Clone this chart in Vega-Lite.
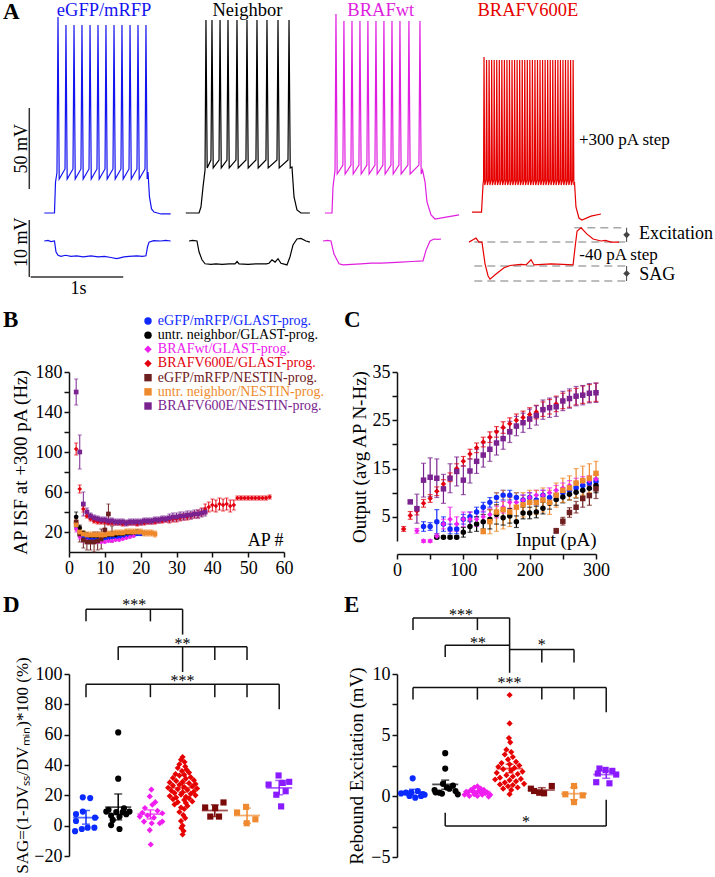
{
"$schema":"https://vega.github.io/schema/vega-lite/v6.json",
"background":"white",
"padding":{"left":2,"top":0,"right":0,"bottom":0},
"config":{
 "view":{"stroke":null},
 "font":"Liberation Serif",
 "text":{"font":"Liberation Serif","color":"black"},
 "axis":{"grid":false,"domainColor":"#111","domainWidth":1.5,"tickColor":"#111","tickWidth":1.5,"tickSize":5,"labelColor":"black","labelFont":"Liberation Serif","labelFontSize":18,"labelPadding":2,"labelFlush":false,"labelOverlap":false,"titleFont":"Liberation Serif","titleFontSize":19,"titleFontWeight":"normal","titleColor":"black"}
},
"columns":2,
"bounds":"flush",
"spacing":{"row":122,"column":106},
"resolve":{"scale":{"color":"independent","shape":"independent","stroke":"independent","fill":"independent"}},
"datasets":{
"topTr":[
{"c":"b","t":0,"v":-70},{"c":"b","t":110,"v":-70},{"c":"b","t":121,"v":-51},{"c":"b","t":137,"v":-45},
{"c":"b","t":148,"v":51},{"c":"b","t":161,"v":-49},
{"c":"b","t":224,"v":-42.8},{"c":"b","t":234,"v":46},{"c":"b","t":247,"v":-49},
{"c":"b","t":310,"v":-42.8},{"c":"b","t":321,"v":46},{"c":"b","t":334,"v":-49},
{"c":"b","t":396,"v":-42.8},{"c":"b","t":407,"v":46},{"c":"b","t":420,"v":-49},
{"c":"b","t":483,"v":-42.8},{"c":"b","t":494,"v":46},{"c":"b","t":507,"v":-49},
{"c":"b","t":569,"v":-42.8},{"c":"b","t":580,"v":46},{"c":"b","t":593,"v":-49},
{"c":"b","t":656,"v":-42.8},{"c":"b","t":666,"v":46},{"c":"b","t":679,"v":-49},
{"c":"b","t":742,"v":-42.8},{"c":"b","t":753,"v":46},{"c":"b","t":766,"v":-49},
{"c":"b","t":828,"v":-42.8},{"c":"b","t":839,"v":46},{"c":"b","t":852,"v":-49},
{"c":"b","t":915,"v":-42.8},{"c":"b","t":926,"v":46},{"c":"b","t":939,"v":-49},
{"c":"b","t":1001,"v":-42.8},{"c":"b","t":1012,"v":46},{"c":"b","t":1025,"v":-49},
{"c":"b","t":1088,"v":-42.8},{"c":"b","t":1098,"v":46},{"c":"b","t":1111,"v":-49},
{"c":"b","t":1120,"v":-44.7},{"c":"b","t":1136,"v":-60.1},{"c":"b","t":1158,"v":-67.5},{"c":"b","t":1185,"v":-69.4},{"c":"b","t":1260,"v":-70.6},{"c":"b","t":1365,"v":-70.6},
{"c":"k","t":1528,"v":-70},{"c":"k","t":1671,"v":-70},{"c":"k","t":1692,"v":-66.3},{"c":"k","t":1714,"v":-54},{"c":"k","t":1736,"v":-43.5},
{"c":"k","t":1746,"v":49.1},{"c":"k","t":1759,"v":-42.2},
{"c":"k","t":1800,"v":-37.3},{"c":"k","t":1811,"v":49.1},{"c":"k","t":1824,"v":-42.2},
{"c":"k","t":1887,"v":-37.3},{"c":"k","t":1898,"v":49.1},{"c":"k","t":1911,"v":-42.2},
{"c":"k","t":1973,"v":-37.3},{"c":"k","t":1984,"v":49.1},{"c":"k","t":1997,"v":-42.2},
{"c":"k","t":2070,"v":-37.3},{"c":"k","t":2081,"v":49.1},{"c":"k","t":2094,"v":-42.2},
{"c":"k","t":2178,"v":-37.3},{"c":"k","t":2189,"v":49.1},{"c":"k","t":2202,"v":-42.2},
{"c":"k","t":2286,"v":-37.3},{"c":"k","t":2297,"v":49.1},{"c":"k","t":2310,"v":-42.2},
{"c":"k","t":2394,"v":-37.3},{"c":"k","t":2405,"v":49.1},{"c":"k","t":2418,"v":-42.2},
{"c":"k","t":2513,"v":-37.3},{"c":"k","t":2524,"v":49.1},{"c":"k","t":2537,"v":-42.2},
{"c":"k","t":2632,"v":-37.3},{"c":"k","t":2643,"v":49.1},{"c":"k","t":2656,"v":-42.2},
{"c":"k","t":2675,"v":-41.6},{"c":"k","t":2697,"v":-60.1},{"c":"k","t":2729,"v":-68.1},{"c":"k","t":2772,"v":-70},{"c":"k","t":2868,"v":-70},
{"c":"m","t":3032,"v":-70},{"c":"m","t":3107,"v":-70},{"c":"m","t":3118,"v":-54},{"c":"m","t":3140,"v":-43.5},
{"c":"m","t":3150,"v":52.8},{"c":"m","t":3163,"v":-45.9},
{"c":"m","t":3225,"v":-40.4},{"c":"m","t":3236,"v":48.5},{"c":"m","t":3249,"v":-45.9},
{"c":"m","t":3312,"v":-40.4},{"c":"m","t":3323,"v":48.5},{"c":"m","t":3336,"v":-45.9},
{"c":"m","t":3398,"v":-40.4},{"c":"m","t":3409,"v":48.5},{"c":"m","t":3422,"v":-45.9},
{"c":"m","t":3484,"v":-40.4},{"c":"m","t":3495,"v":48.5},{"c":"m","t":3508,"v":-45.9},
{"c":"m","t":3571,"v":-40.4},{"c":"m","t":3582,"v":48.5},{"c":"m","t":3595,"v":-45.9},
{"c":"m","t":3657,"v":-40.4},{"c":"m","t":3668,"v":48.5},{"c":"m","t":3681,"v":-45.9},
{"c":"m","t":3744,"v":-40.4},{"c":"m","t":3755,"v":48.5},{"c":"m","t":3768,"v":-45.9},
{"c":"m","t":3830,"v":-40.4},{"c":"m","t":3841,"v":48.5},{"c":"m","t":3854,"v":-45.9},
{"c":"m","t":3927,"v":-40.4},{"c":"m","t":3938,"v":48.5},{"c":"m","t":3951,"v":-45.9},
{"c":"m","t":4046,"v":-40.4},{"c":"m","t":4057,"v":48.5},{"c":"m","t":4070,"v":-45.9},
{"c":"m","t":4085,"v":-43.5},{"c":"m","t":4112,"v":-50.9},{"c":"m","t":4133,"v":-63.2},{"c":"m","t":4177,"v":-71.2},{"c":"m","t":4220,"v":-73.7},{"c":"m","t":4339,"v":-72.5},{"c":"m","t":4479,"v":-71.2},
{"c":"r","t":4619,"v":-69.4},{"c":"r","t":4722,"v":-69.4},{"c":"r","t":4738,"v":-52.7},
{"c":"r","t":4744,"v":-49.6},{"c":"r","t":4749,"v":26.3},{"c":"r","t":4757,"v":-52.7},
{"c":"r","t":4771.5,"v":-49.6},{"c":"r","t":4776.5,"v":24.4},{"c":"r","t":4784.5,"v":-52.7},
{"c":"r","t":4799,"v":-49.6},{"c":"r","t":4804,"v":24.4},{"c":"r","t":4812,"v":-52.7},
{"c":"r","t":4826.5,"v":-49.6},{"c":"r","t":4831.5,"v":24.4},{"c":"r","t":4839.5,"v":-52.7},
{"c":"r","t":4854,"v":-49.6},{"c":"r","t":4859,"v":24.4},{"c":"r","t":4867,"v":-52.7},
{"c":"r","t":4881.5,"v":-49.6},{"c":"r","t":4886.5,"v":24.4},{"c":"r","t":4894.5,"v":-52.7},
{"c":"r","t":4909,"v":-49.6},{"c":"r","t":4914,"v":24.4},{"c":"r","t":4922,"v":-52.7},
{"c":"r","t":4936.5,"v":-49.6},{"c":"r","t":4941.5,"v":24.4},{"c":"r","t":4949.5,"v":-52.7},
{"c":"r","t":4964,"v":-49.6},{"c":"r","t":4969,"v":24.4},{"c":"r","t":4977,"v":-52.7},
{"c":"r","t":4991.5,"v":-49.6},{"c":"r","t":4996.5,"v":24.4},{"c":"r","t":5004.5,"v":-52.7},
{"c":"r","t":5019,"v":-49.6},{"c":"r","t":5024,"v":24.4},{"c":"r","t":5032,"v":-52.7},
{"c":"r","t":5046.5,"v":-49.6},{"c":"r","t":5051.5,"v":24.4},{"c":"r","t":5059.5,"v":-52.7},
{"c":"r","t":5074,"v":-49.6},{"c":"r","t":5079,"v":24.4},{"c":"r","t":5087,"v":-52.7},
{"c":"r","t":5101.5,"v":-49.6},{"c":"r","t":5106.5,"v":24.4},{"c":"r","t":5114.5,"v":-52.7},
{"c":"r","t":5129,"v":-49.6},{"c":"r","t":5134,"v":24.4},{"c":"r","t":5142,"v":-52.7},
{"c":"r","t":5156.5,"v":-49.6},{"c":"r","t":5161.5,"v":24.4},{"c":"r","t":5169.5,"v":-52.7},
{"c":"r","t":5184,"v":-49.6},{"c":"r","t":5189,"v":24.4},{"c":"r","t":5197,"v":-52.7},
{"c":"r","t":5211.5,"v":-49.6},{"c":"r","t":5216.5,"v":24.4},{"c":"r","t":5224.5,"v":-52.7},
{"c":"r","t":5239,"v":-49.6},{"c":"r","t":5244,"v":24.4},{"c":"r","t":5252,"v":-52.7},
{"c":"r","t":5266.5,"v":-49.6},{"c":"r","t":5271.5,"v":24.4},{"c":"r","t":5279.5,"v":-52.7},
{"c":"r","t":5294,"v":-49.6},{"c":"r","t":5299,"v":24.4},{"c":"r","t":5307,"v":-52.7},
{"c":"r","t":5321.5,"v":-49.6},{"c":"r","t":5326.5,"v":24.4},{"c":"r","t":5334.5,"v":-52.7},
{"c":"r","t":5349,"v":-49.6},{"c":"r","t":5354,"v":24.4},{"c":"r","t":5362,"v":-52.7},
{"c":"r","t":5376.5,"v":-49.6},{"c":"r","t":5381.5,"v":24.4},{"c":"r","t":5389.5,"v":-52.7},
{"c":"r","t":5404,"v":-49.6},{"c":"r","t":5409,"v":24.4},{"c":"r","t":5417,"v":-52.7},
{"c":"r","t":5431.5,"v":-49.6},{"c":"r","t":5436.5,"v":24.4},{"c":"r","t":5444.5,"v":-52.7},
{"c":"r","t":5459,"v":-49.6},{"c":"r","t":5464,"v":24.4},{"c":"r","t":5472,"v":-52.7},
{"c":"r","t":5486.5,"v":-49.6},{"c":"r","t":5491.5,"v":24.4},{"c":"r","t":5499.5,"v":-52.7},
{"c":"r","t":5514,"v":-49.6},{"c":"r","t":5519,"v":24.4},{"c":"r","t":5527,"v":-52.7},
{"c":"r","t":5541.5,"v":-49.6},{"c":"r","t":5546.5,"v":24.4},{"c":"r","t":5554.5,"v":-52.7},
{"c":"r","t":5569,"v":-49.6},{"c":"r","t":5574,"v":24.4},{"c":"r","t":5582,"v":-52.7},
{"c":"r","t":5596.5,"v":-49.6},{"c":"r","t":5601.5,"v":24.4},{"c":"r","t":5609.5,"v":-52.7},
{"c":"r","t":5624,"v":-49.6},{"c":"r","t":5629,"v":24.4},{"c":"r","t":5637,"v":-52.7},
{"c":"r","t":5651.5,"v":-49.6},{"c":"r","t":5656.5,"v":24.4},{"c":"r","t":5664.5,"v":-52.7},
{"c":"r","t":5679,"v":-49.6},{"c":"r","t":5684,"v":24.4},{"c":"r","t":5692,"v":-52.7},
{"c":"r","t":5706.5,"v":-49.6},{"c":"r","t":5711.5,"v":24.4},{"c":"r","t":5719.5,"v":-52.7},
{"c":"r","t":5726,"v":-50.9},{"c":"r","t":5742,"v":-66.3},{"c":"r","t":5774,"v":-73.1},{"c":"r","t":5807,"v":-74.3},{"c":"r","t":5904,"v":-71.9},{"c":"r","t":6012,"v":-70.6}
],
"botTr":[
{"c":"b","t":0,"d":0},{"c":"b","t":40,"d":0.1},{"c":"b","t":72,"d":-0.1},{"c":"b","t":110,"d":0},{"c":"b","t":126,"d":-1.9},{"c":"b","t":148,"d":-2.5},{"c":"b","t":180,"d":-2.7},{"c":"b","t":230,"d":-2.5},{"c":"b","t":288,"d":-2.7},{"c":"b","t":350,"d":-2.6},{"c":"b","t":420,"d":-2.8},{"c":"b","t":504,"d":-2.6},{"c":"b","t":580,"d":-2.8},{"c":"b","t":650,"d":-2.7},{"c":"b","t":720,"d":-2.9},{"c":"b","t":780,"d":-3.1},{"c":"b","t":807,"d":-3.0},{"c":"b","t":860,"d":-2.8},{"c":"b","t":915,"d":-2.7},{"c":"b","t":1000,"d":-2.6},{"c":"b","t":1060,"d":-2.7},{"c":"b","t":1098,"d":-2.6},{"c":"b","t":1115,"d":-1.0},{"c":"b","t":1131,"d":-0.2},{"c":"b","t":1180,"d":0.05},{"c":"b","t":1260,"d":0},{"c":"b","t":1310,"d":0.1},{"c":"b","t":1365,"d":0},
{"c":"k","t":1563,"d":0},{"c":"k","t":1600,"d":0.1},{"c":"k","t":1649,"d":0},{"c":"k","t":1671,"d":-1.9},{"c":"k","t":1703,"d":-3.3},{"c":"k","t":1736,"d":-4.0},{"c":"k","t":1800,"d":-4.1},{"c":"k","t":1855,"d":-4.0},{"c":"k","t":1920,"d":-4.1},{"c":"k","t":2000,"d":-4.0},{"c":"k","t":2060,"d":-4.0},{"c":"k","t":2082,"d":-3.6},{"c":"k","t":2103,"d":-4.0},{"c":"k","t":2200,"d":-4.1},{"c":"k","t":2286,"d":-4.0},{"c":"k","t":2400,"d":-4.0},{"c":"k","t":2427,"d":-3.9},{"c":"k","t":2459,"d":-3.3},{"c":"k","t":2492,"d":-3.7},{"c":"k","t":2524,"d":-3.1},{"c":"k","t":2556,"d":-3.9},{"c":"k","t":2600,"d":-4.1},{"c":"k","t":2621,"d":-4.2},{"c":"k","t":2653,"d":-2.8},{"c":"k","t":2686,"d":-0.7},{"c":"k","t":2729,"d":0.35},{"c":"k","t":2772,"d":0.45},{"c":"k","t":2826,"d":0},{"c":"k","t":2868,"d":-0.2},
{"c":"m","t":3010,"d":0},{"c":"m","t":3060,"d":0.1},{"c":"m","t":3096,"d":0},{"c":"m","t":3129,"d":-2.3},{"c":"m","t":3183,"d":-4.0},{"c":"m","t":3226,"d":-4.2},{"c":"m","t":3320,"d":-4.1},{"c":"m","t":3420,"d":-4.0},{"c":"m","t":3530,"d":-3.9},{"c":"m","t":3636,"d":-3.9},{"c":"m","t":3750,"d":-3.8},{"c":"m","t":3852,"d":-3.7},{"c":"m","t":3970,"d":-3.6},{"c":"m","t":4090,"d":-3.5},{"c":"m","t":4123,"d":-1.6},{"c":"m","t":4166,"d":0},{"c":"m","t":4209,"d":0.35},{"c":"m","t":4250,"d":0.3},{"c":"m","t":4285,"d":0.35},
{"c":"r","t":4587,"d":-0.2},{"c":"r","t":4630,"d":0.2},{"c":"r","t":4662,"d":0.5},{"c":"r","t":4695,"d":-0.2},{"c":"r","t":4727,"d":-0.2},{"c":"r","t":4760,"d":-4.0},{"c":"r","t":4792,"d":-6.1},{"c":"r","t":4814,"d":-6.7},{"c":"r","t":4879,"d":-5.8},{"c":"r","t":4965,"d":-4.7},{"c":"r","t":5030,"d":-4.3},{"c":"r","t":5095,"d":-4.2},{"c":"r","t":5150,"d":-4.1},{"c":"r","t":5203,"d":-4.2},{"c":"r","t":5257,"d":-3.3},{"c":"r","t":5289,"d":-4.2},{"c":"r","t":5380,"d":-4.1},{"c":"r","t":5473,"d":-4.0},{"c":"r","t":5600,"d":-4.1},{"c":"r","t":5711,"d":-4.2},{"c":"r","t":5733,"d":-1.0},{"c":"r","t":5754,"d":1.75},{"c":"r","t":5797,"d":2.3},{"c":"r","t":5862,"d":1.2},{"c":"r","t":5927,"d":0.35},{"c":"r","t":6013,"d":0},{"c":"r","t":6060,"d":0.1},{"c":"r","t":6120,"d":-0.2},{"c":"r","t":6207,"d":-0.2}
],
"titlesA":[{"s":"eGFP/mRFP","t":646,"v":51.3,"c":"b"},{"s":"Neighbor","t":2193,"v":51.3,"c":"k"},{"s":"BRAFwt","t":3634,"v":51.3,"c":"m"},{"s":"BRAFV600E","t":5223,"v":51.3,"c":"r"}],
"dashA":[{"t":5724,"t2":6282,"d":2.33},{"t":4644,"t2":6282,"d":-0.18},{"t":4644,"t2":6282,"d":-4.39},{"t":4644,"t2":6282,"d":-7.02}],
"arrA":[{"t":6289,"d":2.33,"d2":-0.18,"m":1.08},{"t":6289,"d":-4.39,"d2":-7.02,"m":-5.7}],
"legB":[{"g":1,"lab":"eGFP/mRFP/GLAST-prog."},{"g":2,"lab":"untr. neighbor/GLAST-prog."},{"g":3,"lab":"BRAFwt/GLAST-prog."},{"g":4,"lab":"BRAFV600E/GLAST-prog."},{"g":5,"lab":"eGFP/mRFP/NESTIN-prog."},{"g":6,"lab":"untr. neighbor/NESTIN-prog."},{"g":7,"lab":"BRAFV600E/NESTIN-prog."}],
"isf":[
{"g":1,"x":2,"y":26,"lo":23,"hi":29},{"g":1,"x":3,"y":18,"lo":16,"hi":20},{"g":1,"x":4,"y":15,"lo":13,"hi":17},{"g":1,"x":5,"y":14,"lo":12,"hi":16},{"g":1,"x":6,"y":14,"lo":12,"hi":16},{"g":1,"x":7,"y":14,"lo":13,"hi":15},{"g":1,"x":8,"y":14,"lo":13,"hi":15},{"g":1,"x":9,"y":14,"lo":13,"hi":15},{"g":1,"x":10,"y":14,"lo":13,"hi":15},{"g":1,"x":11,"y":14,"lo":13,"hi":15},{"g":1,"x":12,"y":15,"lo":14,"hi":16},{"g":1,"x":13,"y":15,"lo":14,"hi":16},{"g":1,"x":14,"y":15,"lo":14,"hi":16},{"g":1,"x":15,"y":16,"lo":15,"hi":17},{"g":1,"x":16,"y":16,"lo":15,"hi":17},{"g":1,"x":17,"y":17,"lo":16,"hi":18},{"g":1,"x":18,"y":17,"lo":16,"hi":18},{"g":1,"x":19,"y":18,"lo":17,"hi":19},{"g":1,"x":20,"y":18,"lo":17,"hi":19},{"g":1,"x":21,"y":19,"lo":18,"hi":20},
{"g":2,"x":2,"y":35,"lo":30,"hi":40},{"g":2,"x":3,"y":24,"lo":21,"hi":27},{"g":2,"x":4,"y":19,"lo":17,"hi":21},{"g":2,"x":5,"y":17,"lo":15,"hi":19},{"g":2,"x":6,"y":16,"lo":14,"hi":18},{"g":2,"x":7,"y":16,"lo":14,"hi":18},{"g":2,"x":8,"y":16,"lo":14,"hi":18},{"g":2,"x":9,"y":16,"lo":14,"hi":18},{"g":2,"x":10,"y":16,"lo":14,"hi":18},{"g":2,"x":11,"y":17,"lo":15,"hi":19},{"g":2,"x":12,"y":17,"lo":15,"hi":19},{"g":2,"x":13,"y":17,"lo":15,"hi":19},{"g":2,"x":14,"y":18,"lo":16,"hi":20},{"g":2,"x":15,"y":18,"lo":16,"hi":20},{"g":2,"x":16,"y":19,"lo":17,"hi":21},{"g":2,"x":17,"y":19,"lo":17,"hi":21},{"g":2,"x":18,"y":19,"lo":17,"hi":21},{"g":2,"x":19,"y":20,"lo":18,"hi":22},
{"g":3,"x":2,"y":23,"lo":20,"hi":26},{"g":3,"x":3,"y":15,"lo":13,"hi":17},{"g":3,"x":4,"y":12,"lo":10,"hi":14},{"g":3,"x":5,"y":11,"lo":10,"hi":12},{"g":3,"x":6,"y":10,"lo":9,"hi":11},{"g":3,"x":7,"y":10,"lo":9,"hi":11},{"g":3,"x":8,"y":10,"lo":9,"hi":11},{"g":3,"x":9,"y":10,"lo":9,"hi":11},{"g":3,"x":10,"y":10,"lo":9,"hi":11},{"g":3,"x":11,"y":11,"lo":10,"hi":12},{"g":3,"x":12,"y":11,"lo":10,"hi":12},{"g":3,"x":13,"y":12,"lo":11,"hi":13},{"g":3,"x":14,"y":12,"lo":11,"hi":13},{"g":3,"x":15,"y":13,"lo":12,"hi":14},{"g":3,"x":16,"y":14,"lo":13,"hi":15},{"g":3,"x":17,"y":15,"lo":14,"hi":16},{"g":3,"x":18,"y":16,"lo":15,"hi":17},
{"g":4,"x":2,"y":103,"lo":97,"hi":109},{"g":4,"x":3,"y":63,"lo":59,"hi":67},{"g":4,"x":4,"y":43,"lo":40,"hi":46},{"g":4,"x":5,"y":36,"lo":34,"hi":38},{"g":4,"x":6,"y":33,"lo":31,"hi":35},{"g":4,"x":7,"y":31,"lo":29,"hi":33},{"g":4,"x":8,"y":30,"lo":28,"hi":32},{"g":4,"x":9,"y":30,"lo":28,"hi":32},{"g":4,"x":10,"y":30,"lo":28,"hi":32},{"g":4,"x":11,"y":29,"lo":27,"hi":31},{"g":4,"x":12,"y":29,"lo":27,"hi":31},{"g":4,"x":13,"y":29,"lo":27,"hi":31},{"g":4,"x":14,"y":29,"lo":27,"hi":31},{"g":4,"x":15,"y":28,"lo":26,"hi":30},{"g":4,"x":16,"y":29,"lo":27,"hi":31},{"g":4,"x":17,"y":29,"lo":27,"hi":31},{"g":4,"x":18,"y":29,"lo":27,"hi":31},{"g":4,"x":19,"y":28,"lo":26,"hi":30},{"g":4,"x":20,"y":29,"lo":27,"hi":31},{"g":4,"x":21,"y":29,"lo":27,"hi":31},{"g":4,"x":22,"y":30,"lo":28,"hi":32},{"g":4,"x":23,"y":30,"lo":28,"hi":32},{"g":4,"x":24,"y":30,"lo":28,"hi":32},{"g":4,"x":25,"y":31,"lo":29,"hi":33},{"g":4,"x":26,"y":31,"lo":29,"hi":33},{"g":4,"x":27,"y":32,"lo":30,"hi":34},{"g":4,"x":28,"y":32,"lo":29,"hi":35},{"g":4,"x":29,"y":33,"lo":30,"hi":36},{"g":4,"x":30,"y":33,"lo":30,"hi":36},{"g":4,"x":31,"y":34,"lo":31,"hi":37},{"g":4,"x":32,"y":35,"lo":32,"hi":38},{"g":4,"x":33,"y":35,"lo":32,"hi":38},{"g":4,"x":34,"y":36,"lo":33,"hi":39},{"g":4,"x":35,"y":37,"lo":34,"hi":40},{"g":4,"x":36,"y":38,"lo":34,"hi":42},{"g":4,"x":37,"y":40,"lo":36,"hi":44},{"g":4,"x":38,"y":43,"lo":38,"hi":48},{"g":4,"x":39,"y":45,"lo":40,"hi":50},{"g":4,"x":40,"y":47,"lo":41,"hi":53},{"g":4,"x":41,"y":46,"lo":40,"hi":52},{"g":4,"x":42,"y":48,"lo":42,"hi":54},{"g":4,"x":43,"y":47,"lo":41,"hi":53},{"g":4,"x":44,"y":48,"lo":42,"hi":54},{"g":4,"x":45,"y":46,"lo":40,"hi":52},{"g":4,"x":46,"y":47,"lo":42,"hi":52},{"g":4,"x":47,"y":54,"lo":52,"hi":56},{"g":4,"x":48,"y":54,"lo":52,"hi":56},{"g":4,"x":49,"y":54,"lo":52,"hi":56},{"g":4,"x":50,"y":54,"lo":52,"hi":56},{"g":4,"x":51,"y":54,"lo":52,"hi":56},{"g":4,"x":52,"y":54,"lo":52,"hi":56},{"g":4,"x":53,"y":54,"lo":52,"hi":56},{"g":4,"x":54,"y":54,"lo":52,"hi":56},{"g":4,"x":55,"y":54,"lo":52,"hi":56},{"g":4,"x":56,"y":55,"lo":53,"hi":57},
{"g":5,"x":2,"y":30,"lo":24,"hi":36},{"g":5,"x":3,"y":18,"lo":10,"hi":26},{"g":5,"x":4,"y":12,"lo":4,"hi":20},{"g":5,"x":5,"y":10,"lo":2,"hi":18},{"g":5,"x":6,"y":10,"lo":2,"hi":18},{"g":5,"x":7,"y":10,"lo":0,"hi":20},{"g":5,"x":8,"y":11,"lo":2,"hi":20},{"g":5,"x":9,"y":13,"lo":3,"hi":23},{"g":5,"x":10,"y":22,"lo":12,"hi":32},{"g":5,"x":11,"y":38,"lo":28,"hi":48},{"g":5,"x":12,"y":18,"lo":10,"hi":26},
{"g":6,"x":2,"y":27,"lo":22,"hi":32},{"g":6,"x":3,"y":20,"lo":16,"hi":24},{"g":6,"x":4,"y":18,"lo":15,"hi":21},{"g":6,"x":5,"y":17,"lo":14,"hi":20},{"g":6,"x":6,"y":17,"lo":14,"hi":20},{"g":6,"x":7,"y":17,"lo":14,"hi":20},{"g":6,"x":8,"y":17,"lo":14,"hi":20},{"g":6,"x":9,"y":17,"lo":14,"hi":20},{"g":6,"x":10,"y":17,"lo":14,"hi":20},{"g":6,"x":11,"y":18,"lo":15,"hi":21},{"g":6,"x":12,"y":18,"lo":15,"hi":21},{"g":6,"x":13,"y":19,"lo":16,"hi":22},{"g":6,"x":14,"y":19,"lo":16,"hi":22},{"g":6,"x":15,"y":19,"lo":16,"hi":22},{"g":6,"x":16,"y":20,"lo":17,"hi":23},{"g":6,"x":17,"y":20,"lo":17,"hi":23},{"g":6,"x":18,"y":20,"lo":17,"hi":23},{"g":6,"x":19,"y":20,"lo":17,"hi":23},{"g":6,"x":20,"y":20,"lo":17,"hi":23},{"g":6,"x":21,"y":19,"lo":16,"hi":22},{"g":6,"x":22,"y":19,"lo":16,"hi":22},{"g":6,"x":23,"y":19,"lo":16,"hi":22},{"g":6,"x":24,"y":18,"lo":15,"hi":21},
{"g":7,"x":2,"y":160,"lo":147,"hi":173},{"g":7,"x":3,"y":100,"lo":83,"hi":117},{"g":7,"x":4,"y":48,"lo":36,"hi":60},{"g":7,"x":5,"y":40,"lo":36,"hi":44},{"g":7,"x":6,"y":36,"lo":33,"hi":39},{"g":7,"x":7,"y":34,"lo":31,"hi":37},{"g":7,"x":8,"y":33,"lo":30,"hi":36},{"g":7,"x":9,"y":32,"lo":29,"hi":35},{"g":7,"x":10,"y":32,"lo":29,"hi":35},{"g":7,"x":11,"y":31,"lo":28,"hi":34},{"g":7,"x":12,"y":31,"lo":28,"hi":34},{"g":7,"x":13,"y":30,"lo":27,"hi":33},{"g":7,"x":14,"y":30,"lo":27,"hi":33},{"g":7,"x":15,"y":30,"lo":27,"hi":33},{"g":7,"x":16,"y":29,"lo":26,"hi":32},{"g":7,"x":17,"y":30,"lo":27,"hi":33},{"g":7,"x":18,"y":30,"lo":27,"hi":33},{"g":7,"x":19,"y":30,"lo":27,"hi":33},{"g":7,"x":20,"y":30,"lo":27,"hi":33},{"g":7,"x":21,"y":31,"lo":28,"hi":34},{"g":7,"x":22,"y":31,"lo":28,"hi":34},{"g":7,"x":23,"y":31,"lo":28,"hi":34},{"g":7,"x":24,"y":32,"lo":29,"hi":35},{"g":7,"x":25,"y":32,"lo":29,"hi":35},{"g":7,"x":26,"y":33,"lo":30,"hi":36},{"g":7,"x":27,"y":33,"lo":30,"hi":36},{"g":7,"x":28,"y":34,"lo":30,"hi":38},{"g":7,"x":29,"y":35,"lo":31,"hi":39},{"g":7,"x":30,"y":35,"lo":31,"hi":39},{"g":7,"x":31,"y":36,"lo":32,"hi":40},{"g":7,"x":32,"y":36,"lo":32,"hi":40},{"g":7,"x":33,"y":37,"lo":33,"hi":41},{"g":7,"x":34,"y":37,"lo":33,"hi":41},{"g":7,"x":35,"y":38,"lo":34,"hi":42},{"g":7,"x":36,"y":38,"lo":34,"hi":42},{"g":7,"x":37,"y":39,"lo":35,"hi":43},{"g":7,"x":38,"y":40,"lo":36,"hi":44}
],
"out":[
{"g":1,"x":40,"y":3.0,"lo":2.0,"hi":4.0},{"g":1,"x":50,"y":3.0,"lo":2.2,"hi":3.8},{"g":1,"x":60,"y":4.0,"lo":1.5,"hi":6.5},{"g":1,"x":70,"y":3.5,"lo":2.0,"hi":5.0},{"g":1,"x":80,"y":2.5,"lo":1.5,"hi":3.5},{"g":1,"x":90,"y":2.5,"lo":1.5,"hi":3.5},{"g":1,"x":100,"y":4.5,"lo":3.5,"hi":5.5},{"g":1,"x":110,"y":5.0,"lo":4,"hi":6},{"g":1,"x":120,"y":6,"lo":5,"hi":7},{"g":1,"x":130,"y":7,"lo":6,"hi":8},{"g":1,"x":140,"y":8,"lo":7,"hi":9},{"g":1,"x":150,"y":9,"lo":8,"hi":10},{"g":1,"x":160,"y":9.5,"lo":8.5,"hi":10.5},{"g":1,"x":170,"y":9.5,"lo":8.5,"hi":10.5},{"g":1,"x":180,"y":9,"lo":8,"hi":10},{"g":1,"x":190,"y":8.5,"lo":7.5,"hi":9.5},{"g":1,"x":200,"y":9,"lo":8,"hi":10},{"g":1,"x":210,"y":8.5,"lo":7.5,"hi":9.5},{"g":1,"x":220,"y":9.5,"lo":8.5,"hi":10.5},{"g":1,"x":230,"y":9,"lo":8,"hi":10},{"g":1,"x":240,"y":9.5,"lo":8.5,"hi":10.5},{"g":1,"x":250,"y":10,"lo":9,"hi":11},{"g":1,"x":260,"y":10.5,"lo":9.5,"hi":11.5},{"g":1,"x":270,"y":11,"lo":10,"hi":12},{"g":1,"x":280,"y":11.5,"lo":10.3,"hi":12.7},{"g":1,"x":290,"y":12,"lo":10.8,"hi":13.2},{"g":1,"x":300,"y":12.3,"lo":10.8,"hi":13.8},
{"g":2,"x":60,"y":0.8,"lo":0.5,"hi":1.1},{"g":2,"x":70,"y":0.8,"lo":0.5,"hi":1.1},{"g":2,"x":80,"y":0.8,"lo":0.5,"hi":1.1},{"g":2,"x":90,"y":0.8,"lo":0.5,"hi":1.1},{"g":2,"x":100,"y":1.8,"lo":0.8,"hi":2.8},{"g":2,"x":110,"y":3,"lo":1.8,"hi":4.2},{"g":2,"x":120,"y":3.5,"lo":2,"hi":5},{"g":2,"x":130,"y":4,"lo":2.5,"hi":5.5},{"g":2,"x":140,"y":4.5,"lo":2.5,"hi":6.5},{"g":2,"x":150,"y":5.5,"lo":3.5,"hi":7.5},{"g":2,"x":160,"y":4.8,"lo":3.3,"hi":6.3},{"g":2,"x":170,"y":5.2,"lo":3.7,"hi":6.7},{"g":2,"x":180,"y":4.0,"lo":2.8,"hi":5.2},{"g":2,"x":190,"y":5.8,"lo":4.6,"hi":7.0},{"g":2,"x":200,"y":5.8,"lo":4.6,"hi":7.0},{"g":2,"x":210,"y":6.0,"lo":4.8,"hi":7.2},{"g":2,"x":220,"y":6.8,"lo":5.6,"hi":8.0},{"g":2,"x":230,"y":7.8,"lo":6.6,"hi":9.0},{"g":2,"x":240,"y":8.6,"lo":7.4,"hi":9.8},{"g":2,"x":250,"y":9.1,"lo":7.9,"hi":10.3},{"g":2,"x":260,"y":9.7,"lo":8.5,"hi":10.9},{"g":2,"x":270,"y":10.1,"lo":8.9,"hi":11.3},{"g":2,"x":280,"y":10.5,"lo":9.3,"hi":11.7},{"g":2,"x":290,"y":10.9,"lo":9.7,"hi":12.1},{"g":2,"x":300,"y":11.5,"lo":10,"hi":13},
{"g":3,"x":30,"y":2.1,"lo":1.6,"hi":2.6},{"g":3,"x":40,"y":0,"lo":-0.3,"hi":0.3},{"g":3,"x":50,"y":0,"lo":-0.3,"hi":0.3},{"g":3,"x":60,"y":1.0,"lo":0.5,"hi":1.5},{"g":3,"x":70,"y":3.5,"lo":2.5,"hi":4.5},{"g":3,"x":80,"y":4.5,"lo":2,"hi":7},{"g":3,"x":90,"y":3.5,"lo":2,"hi":5},{"g":3,"x":100,"y":4.5,"lo":3,"hi":6},{"g":3,"x":110,"y":4.5,"lo":3,"hi":6},{"g":3,"x":120,"y":4.5,"lo":3,"hi":6},{"g":3,"x":130,"y":5.0,"lo":3.8,"hi":6.2},{"g":3,"x":140,"y":5.5,"lo":4.3,"hi":6.7},{"g":3,"x":150,"y":6,"lo":4.8,"hi":7.2},{"g":3,"x":160,"y":7,"lo":5.8,"hi":8.2},{"g":3,"x":170,"y":8,"lo":6.8,"hi":9.2},{"g":3,"x":180,"y":8,"lo":7,"hi":9},{"g":3,"x":190,"y":8.5,"lo":7.5,"hi":9.5},{"g":3,"x":200,"y":9,"lo":8,"hi":10},{"g":3,"x":210,"y":9.5,"lo":8.5,"hi":10.5},{"g":3,"x":220,"y":9.5,"lo":8.5,"hi":10.5},{"g":3,"x":230,"y":10,"lo":9,"hi":11},{"g":3,"x":240,"y":10.5,"lo":9.5,"hi":11.5},{"g":3,"x":250,"y":11,"lo":10,"hi":12},{"g":3,"x":260,"y":11.5,"lo":10.5,"hi":12.5},{"g":3,"x":270,"y":12,"lo":11,"hi":13},{"g":3,"x":280,"y":12.3,"lo":11.3,"hi":13.3},{"g":3,"x":290,"y":12.5,"lo":11.5,"hi":13.5},{"g":3,"x":300,"y":12.8,"lo":11.8,"hi":13.8},
{"g":4,"x":10,"y":2.5,"lo":2.0,"hi":3.0},{"g":4,"x":20,"y":5.3,"lo":4.5,"hi":6.1},{"g":4,"x":30,"y":6.2,"lo":5.4,"hi":7.0},{"g":4,"x":40,"y":7.8,"lo":7.0,"hi":8.6},{"g":4,"x":50,"y":8.8,"lo":8.0,"hi":9.6},{"g":4,"x":60,"y":10.3,"lo":9.4,"hi":11.2},{"g":4,"x":70,"y":11.8,"lo":10.9,"hi":12.7},{"g":4,"x":80,"y":13.2,"lo":12.3,"hi":14.1},{"g":4,"x":90,"y":15,"lo":14,"hi":16},{"g":4,"x":100,"y":16.5,"lo":15.5,"hi":17.5},{"g":4,"x":110,"y":18,"lo":17,"hi":19},{"g":4,"x":120,"y":19.3,"lo":18.3,"hi":20.3},{"g":4,"x":130,"y":20.5,"lo":19.5,"hi":21.5},{"g":4,"x":140,"y":21.5,"lo":20.4,"hi":22.6},{"g":4,"x":150,"y":22.6,"lo":21.5,"hi":23.7},{"g":4,"x":160,"y":23.5,"lo":22.3,"hi":24.7},{"g":4,"x":170,"y":24.3,"lo":23.1,"hi":25.5},{"g":4,"x":180,"y":25,"lo":23.7,"hi":26.3},{"g":4,"x":190,"y":25.6,"lo":24.3,"hi":26.9},{"g":4,"x":200,"y":26.2,"lo":24.8,"hi":27.6},{"g":4,"x":210,"y":26.7,"lo":25.3,"hi":28.1},{"g":4,"x":220,"y":27.3,"lo":25.8,"hi":28.8},{"g":4,"x":230,"y":27.8,"lo":26.3,"hi":29.3},{"g":4,"x":240,"y":28.4,"lo":26.8,"hi":30.0},{"g":4,"x":250,"y":29.0,"lo":27.4,"hi":30.6},{"g":4,"x":260,"y":29.4,"lo":27.7,"hi":31.1},{"g":4,"x":270,"y":29.9,"lo":28.2,"hi":31.6},{"g":4,"x":280,"y":30.3,"lo":28.5,"hi":32.1},{"g":4,"x":290,"y":30.6,"lo":28.8,"hi":32.4},{"g":4,"x":300,"y":30.8,"lo":28.9,"hi":32.7},
{"g":5,"x":240,"y":2.1,"lo":1.6,"hi":2.6},{"g":5,"x":250,"y":4.1,"lo":3.3,"hi":4.9},{"g":5,"x":260,"y":5.9,"lo":4.9,"hi":6.9},{"g":5,"x":270,"y":7.0,"lo":5.8,"hi":8.2},{"g":5,"x":280,"y":8.8,"lo":7.0,"hi":10.6},{"g":5,"x":290,"y":9.4,"lo":7.4,"hi":11.4},{"g":5,"x":300,"y":10.8,"lo":8.8,"hi":12.8},
{"g":6,"x":130,"y":2.0,"lo":1.5,"hi":2.5},{"g":6,"x":140,"y":4,"lo":1.5,"hi":6.5},{"g":6,"x":150,"y":6,"lo":2,"hi":10},{"g":6,"x":160,"y":6.5,"lo":2.5,"hi":10.5},{"g":6,"x":170,"y":6,"lo":3,"hi":9},{"g":6,"x":180,"y":7,"lo":4,"hi":10},{"g":6,"x":190,"y":7.5,"lo":5,"hi":10},{"g":6,"x":200,"y":8,"lo":5.5,"hi":10.5},{"g":6,"x":210,"y":8,"lo":5.5,"hi":10.5},{"g":6,"x":220,"y":8.5,"lo":6,"hi":11},{"g":6,"x":230,"y":8,"lo":5.5,"hi":10.5},{"g":6,"x":240,"y":9.5,"lo":7,"hi":12},{"g":6,"x":250,"y":10.5,"lo":8,"hi":13},{"g":6,"x":260,"y":11,"lo":8.5,"hi":13.5},{"g":6,"x":270,"y":12,"lo":9,"hi":15},{"g":6,"x":280,"y":12.5,"lo":9.5,"hi":15.5},{"g":6,"x":290,"y":13,"lo":10,"hi":16},{"g":6,"x":300,"y":14,"lo":11.5,"hi":16.5},
{"g":7,"x":20,"y":8.1,"lo":7.8,"hi":8.4},{"g":7,"x":30,"y":6.7,"lo":3.7,"hi":9.7},{"g":7,"x":40,"y":12.6,"lo":9.1,"hi":16.1},{"g":7,"x":50,"y":13.2,"lo":9.2,"hi":17.2},{"g":7,"x":60,"y":13.0,"lo":9.0,"hi":17.0},{"g":7,"x":70,"y":10.8,"lo":7.8,"hi":13.8},{"g":7,"x":80,"y":13.0,"lo":10,"hi":16},{"g":7,"x":90,"y":14.4,"lo":11.4,"hi":17.4},{"g":7,"x":100,"y":12.6,"lo":9.6,"hi":15.6},{"g":7,"x":110,"y":14.5,"lo":12,"hi":17},{"g":7,"x":120,"y":16.5,"lo":14,"hi":19},{"g":7,"x":130,"y":17.8,"lo":15.3,"hi":20.3},{"g":7,"x":140,"y":19,"lo":16.5,"hi":21.5},{"g":7,"x":150,"y":20.3,"lo":17.8,"hi":22.8},{"g":7,"x":160,"y":21.2,"lo":19,"hi":23.4},{"g":7,"x":170,"y":22.6,"lo":20.4,"hi":24.8},{"g":7,"x":180,"y":23.8,"lo":21.8,"hi":25.8},{"g":7,"x":190,"y":24.5,"lo":22.5,"hi":26.5},{"g":7,"x":200,"y":25.3,"lo":23.3,"hi":27.3},{"g":7,"x":210,"y":26,"lo":24,"hi":28},{"g":7,"x":220,"y":27.2,"lo":25.2,"hi":29.2},{"g":7,"x":230,"y":27.6,"lo":25.6,"hi":29.6},{"g":7,"x":240,"y":27.8,"lo":25.8,"hi":29.8},{"g":7,"x":250,"y":29,"lo":27,"hi":31},{"g":7,"x":260,"y":29.5,"lo":27.5,"hi":31.5},{"g":7,"x":270,"y":30,"lo":28,"hi":32},{"g":7,"x":280,"y":30.2,"lo":28.2,"hi":32.2},{"g":7,"x":290,"y":30.6,"lo":28.6,"hi":32.6},{"g":7,"x":300,"y":30.7,"lo":28.7,"hi":32.7}
],
"sag":[
{"g":1,"x":0.69,"y":7.6},{"g":1,"x":0.9,"y":9.3},{"g":1,"x":0.9,"y":18.7},{"g":1,"x":1.13,"y":18.2},{"g":1,"x":0.66,"y":-3.6},{"g":1,"x":0.87,"y":-2.2},{"g":1,"x":1.05,"y":-1.3},{"g":1,"x":1.26,"y":-1.3},{"g":1,"x":0.69,"y":3.1},{"g":1,"x":1.28,"y":5.3},
{"g":2,"x":2,"y":61.5},{"g":2,"x":2,"y":31},{"g":2,"x":1.63,"y":9.3},{"g":2,"x":1.94,"y":8.9},{"g":2,"x":2.14,"y":8.9},{"g":2,"x":2.35,"y":9.3},{"g":2,"x":1.78,"y":6.7},{"g":2,"x":2.04,"y":6},{"g":2,"x":2.25,"y":7.6},{"g":2,"x":1.83,"y":3.8},{"g":2,"x":1.78,"y":0.4},{"g":2,"x":2.04,"y":-2.2},{"g":2,"x":2.18,"y":11.5},{"g":2,"x":1.7,"y":10.5},
{"g":3,"x":3.03,"y":23.8},{"g":3,"x":2.98,"y":19.3},{"g":3,"x":3.06,"y":13.8},{"g":3,"x":2.83,"y":11.6},{"g":3,"x":3.22,"y":9.8},{"g":3,"x":3.37,"y":8.2},{"g":3,"x":2.67,"y":6.0},{"g":3,"x":2.91,"y":6.7},{"g":3,"x":3.11,"y":5.3},{"g":3,"x":2.8,"y":2.7},{"g":3,"x":3.04,"y":1.6},{"g":3,"x":3.29,"y":1.6},{"g":3,"x":2.98,"y":-2.9},{"g":3,"x":3.01,"y":-12.4},{"g":3,"x":3.37,"y":2.7},{"g":3,"x":2.75,"y":8.5},{"g":3,"x":3.15,"y":15.5},
{"g":4,"x":4,"y":45.3},{"g":4,"x":3.95,"y":43.5},{"g":4,"x":4.06,"y":42},{"g":4,"x":3.9,"y":40.5},{"g":4,"x":4.08,"y":39},{"g":4,"x":3.85,"y":38},{"g":4,"x":4.12,"y":37},{"g":4,"x":3.98,"y":36},{"g":4,"x":4.2,"y":35},{"g":4,"x":3.78,"y":34},{"g":4,"x":4.05,"y":33.5},{"g":4,"x":3.9,"y":33},{"g":4,"x":4.25,"y":32},{"g":4,"x":3.7,"y":31.5},{"g":4,"x":4.1,"y":31},{"g":4,"x":4.35,"y":30},{"g":4,"x":3.8,"y":29.5},{"g":4,"x":4,"y":29},{"g":4,"x":3.6,"y":28.5},{"g":4,"x":4.2,"y":28},{"g":4,"x":4.4,"y":27.5},{"g":4,"x":3.9,"y":27},{"g":4,"x":3.7,"y":26.5},{"g":4,"x":4.3,"y":26},{"g":4,"x":4.05,"y":25.5},{"g":4,"x":3.55,"y":25},{"g":4,"x":4.45,"y":24.5},{"g":4,"x":3.85,"y":24},{"g":4,"x":4.15,"y":23.5},{"g":4,"x":3.65,"y":23},{"g":4,"x":4.35,"y":22.5},{"g":4,"x":4,"y":22},{"g":4,"x":3.75,"y":21.5},{"g":4,"x":4.25,"y":21},{"g":4,"x":3.95,"y":20.5},{"g":4,"x":4.4,"y":20},{"g":4,"x":3.6,"y":19.5},{"g":4,"x":4.1,"y":19},{"g":4,"x":3.8,"y":18.5},{"g":4,"x":4.2,"y":18},{"g":4,"x":3.7,"y":17.5},{"g":4,"x":4.05,"y":17},{"g":4,"x":4.3,"y":16},{"g":4,"x":3.85,"y":15.5},{"g":4,"x":4.1,"y":15},{"g":4,"x":3.75,"y":14},{"g":4,"x":4.15,"y":13},{"g":4,"x":3.95,"y":12},{"g":4,"x":4.05,"y":11},{"g":4,"x":3.9,"y":9},{"g":4,"x":4.02,"y":7},{"g":4,"x":4.08,"y":5},{"g":4,"x":3.95,"y":3},{"g":4,"x":4,"y":0},{"g":4,"x":3.96,"y":-1.5},{"g":4,"x":4.03,"y":-3.5},{"g":4,"x":4,"y":-5.8},
{"g":5,"x":5.27,"y":15.3},{"g":5,"x":4.7,"y":12},{"g":5,"x":5.01,"y":11.6},{"g":5,"x":4.86,"y":6},{"g":5,"x":5.13,"y":6},
{"g":6,"x":5.97,"y":12.4},{"g":6,"x":5.69,"y":8.7},{"g":6,"x":6.26,"y":4.2},{"g":6,"x":5.99,"y":1.6},
{"g":7,"x":6.98,"y":33.1},{"g":7,"x":7.31,"y":28.9},{"g":7,"x":6.67,"y":27.1},{"g":7,"x":7.11,"y":28.2},{"g":7,"x":7.2,"y":22.7},{"g":7,"x":6.91,"y":20.4},{"g":7,"x":7.06,"y":12.7}
],
"sagS":[{"g":1,"m":5.3,"lo":1,"hi":10},{"g":2,"m":12.2,"lo":3.8,"hi":20.9},{"g":3,"m":7.6,"lo":4.4,"hi":10.4},{"g":4,"m":25,"lo":22,"hi":28},{"g":5,"m":10,"lo":6,"hi":13.8},{"g":6,"m":6.7,"lo":1.6,"hi":11.6},{"g":7,"m":24.9,"lo":20.4,"hi":29.8}],
"reb":[
{"g":1,"x":0.99,"y":1.45},{"g":1,"x":0.63,"y":0.21},{"g":1,"x":0.78,"y":0.27},{"g":1,"x":0.89,"y":0.0},{"g":1,"x":1.07,"y":-0.14},{"g":1,"x":1.25,"y":0.0},{"g":1,"x":1.15,"y":0.41},{"g":1,"x":1.3,"y":0.15},{"g":1,"x":0.94,"y":0.3},{"g":1,"x":1.36,"y":0.1},
{"g":2,"x":2,"y":3.51},{"g":2,"x":2,"y":2.25},{"g":2,"x":1.67,"y":0.49},{"g":2,"x":1.82,"y":0.27},{"g":2,"x":2.13,"y":0.6},{"g":2,"x":2.32,"y":0.41},{"g":2,"x":2.39,"y":0.14},{"g":2,"x":1.93,"y":1.0},{"g":2,"x":2.24,"y":0.85},{"g":2,"x":1.7,"y":0.3},{"g":2,"x":2.05,"y":0.7},{"g":2,"x":1.9,"y":0.2},
{"g":3,"x":2.6,"y":0.1},{"g":3,"x":2.7,"y":0.3},{"g":3,"x":2.8,"y":0.5},{"g":3,"x":2.9,"y":0.7},{"g":3,"x":3.0,"y":0.8},{"g":3,"x":3.1,"y":0.6},{"g":3,"x":3.2,"y":0.5},{"g":3,"x":3.3,"y":0.3},{"g":3,"x":3.4,"y":0.1},{"g":3,"x":2.75,"y":0.0},{"g":3,"x":2.95,"y":0.2},{"g":3,"x":3.15,"y":0.1},{"g":3,"x":3.35,"y":-0.05},{"g":3,"x":2.85,"y":0.4},{"g":3,"x":3.05,"y":0.45},{"g":3,"x":3.25,"y":0.25},{"g":3,"x":2.65,"y":0.35},{"g":3,"x":3.0,"y":0.0},{"g":3,"x":3.1,"y":0.3},{"g":3,"x":2.9,"y":0.15},
{"g":4,"x":4,"y":8.28},{"g":4,"x":4,"y":5.95},{"g":4,"x":3.98,"y":4.75},{"g":4,"x":4.02,"y":4.4},{"g":4,"x":3.9,"y":3.8},{"g":4,"x":4.05,"y":3.6},{"g":4,"x":3.85,"y":3.4},{"g":4,"x":4.1,"y":3.2},{"g":4,"x":3.95,"y":3.0},{"g":4,"x":4.2,"y":2.8},{"g":4,"x":3.75,"y":2.7},{"g":4,"x":4.0,"y":2.6},{"g":4,"x":4.3,"y":2.5},{"g":4,"x":3.65,"y":2.4},{"g":4,"x":4.15,"y":2.3},{"g":4,"x":3.8,"y":2.2},{"g":4,"x":4.05,"y":2.1},{"g":4,"x":4.4,"y":2.0},{"g":4,"x":3.6,"y":1.9},{"g":4,"x":4.25,"y":1.8},{"g":4,"x":3.9,"y":1.7},{"g":4,"x":4.1,"y":1.6},{"g":4,"x":3.7,"y":1.5},{"g":4,"x":4.35,"y":1.4},{"g":4,"x":3.55,"y":1.35},{"g":4,"x":4.0,"y":1.3},{"g":4,"x":4.2,"y":1.2},{"g":4,"x":3.85,"y":1.1},{"g":4,"x":4.45,"y":1.0},{"g":4,"x":3.7,"y":0.95},{"g":4,"x":4.1,"y":0.9},{"g":4,"x":3.95,"y":0.8},{"g":4,"x":4.25,"y":0.7},{"g":4,"x":3.8,"y":0.6},{"g":4,"x":4.05,"y":0.5},{"g":4,"x":4.0,"y":0.15},
{"g":5,"x":5.31,"y":0.82},{"g":5,"x":4.66,"y":0.6},{"g":5,"x":4.92,"y":0.27},{"g":5,"x":5.07,"y":0.22},{"g":5,"x":4.76,"y":0.41},
{"g":6,"x":6,"y":0.82},{"g":6,"x":5.73,"y":0.14},{"g":6,"x":6.27,"y":0.05},{"g":6,"x":6,"y":-0.5},
{"g":7,"x":6.79,"y":2.25},{"g":7,"x":6.98,"y":2.14},{"g":7,"x":7.19,"y":2.06},{"g":7,"x":6.74,"y":1.84},{"g":7,"x":7.31,"y":1.76},{"g":7,"x":6.69,"y":1.13},{"g":7,"x":7.1,"y":1.04}
],
"rebS":[{"g":1,"m":0.27,"lo":0.05,"hi":0.55},{"g":2,"m":0.95,"lo":0.55,"hi":1.3},{"g":3,"m":0.35,"lo":0.28,"hi":0.42},{"g":4,"m":2.25,"lo":1.9,"hi":2.6},{"g":5,"m":0.49,"lo":0.3,"hi":0.68},{"g":6,"m":0.19,"lo":-0.3,"hi":0.7},{"g":7,"m":1.76,"lo":1.45,"hi":2.05}],
"brD":[{"x":1,"x2":4,"y":142.7,"y2":142.7},{"x":1,"x2":1,"y":142.7,"y2":134.7},{"x":3,"x2":3,"y":142.7,"y2":134.7},{"x":4,"x2":4,"y":142.7,"y2":126},{"x":2,"x2":6,"y":118,"y2":118},{"x":4,"x2":4,"y":118,"y2":101.3},{"x":2,"x2":2,"y":118,"y2":109.3},{"x":5,"x2":5,"y":118,"y2":109.3},{"x":6,"x2":6,"y":118,"y2":109.3},{"x":1,"x2":7,"y":93.3,"y2":93.3},{"x":1,"x2":1,"y":93.3,"y2":84.7},{"x":3,"x2":3,"y":93.3,"y2":84.7},{"x":5,"x2":5,"y":93.3,"y2":84.7},{"x":6,"x2":6,"y":93.3,"y2":84.7},{"x":7,"x2":7,"y":93.3,"y2":76.7}],
"sigD":[{"x":2.5,"y":148,"s":"***"},{"x":4,"y":122.7,"s":"**"},{"x":4,"y":98,"s":"***"}],
"brE":[{"x":1,"x2":4,"y":14.6,"y2":14.6},{"x":1,"x2":1,"y":14.6,"y2":13.6},{"x":3,"x2":3,"y":14.6,"y2":13.6},{"x":4,"x2":4,"y":14.6,"y2":10.1},{"x":2,"x2":4,"y":12.35,"y2":12.35},{"x":2,"x2":2,"y":12.35,"y2":11.4},{"x":4,"x2":6,"y":12.0,"y2":12.0},{"x":5,"x2":5,"y":12.0,"y2":10.95},{"x":6,"x2":6,"y":12.0,"y2":10.95},{"x":1,"x2":7,"y":8.9,"y2":8.9},{"x":1,"x2":1,"y":8.9,"y2":7.9},{"x":3,"x2":3,"y":8.9,"y2":7.9},{"x":5,"x2":5,"y":8.9,"y2":7.9},{"x":6,"x2":6,"y":8.9,"y2":7.9},{"x":7,"x2":7,"y":8.9,"y2":6.86},{"x":2,"x2":7,"y":-2.45,"y2":-2.45},{"x":2,"x2":2,"y":-2.45,"y2":-1.37},{"x":7,"x2":7,"y":-2.45,"y2":-0.3}],
"sigE":[{"x":2.49,"y":15.2,"s":"***"},{"x":3.02,"y":12.9,"s":"**"},{"x":5,"y":12.7,"s":"*"},{"x":4,"y":9.57,"s":"***"},{"x":4.51,"y":-1.8,"s":"*"}]
},
"concat":[
{
 "width":222,"height":248,
 "resolve":{"scale":{"y":"independent"}},
 "layer":[
  {"layer":[
   {"data":{"name":"topTr"},"mark":{"type":"line","strokeWidth":1.2},
    "encoding":{"x":{"field":"t","type":"quantitative","scale":{"domain":[266.8,2664.4],"nice":false,"zero":false},"axis":null},
     "y":{"field":"v","type":"quantitative","scale":{"domain":[-92.84,60.25],"nice":false,"zero":false},"axis":null},
     "color":{"field":"c","type":"nominal","scale":{"domain":["b","k","m","r"],"range":["#1414f0","#000000","#e01ee0","#e60000"]},"legend":null},
     "detail":{"field":"c"}}},
   {"data":{"name":"titlesA"},"mark":{"type":"text","font":"Liberation Serif","fontSize":18.5,"align":"center","baseline":"alphabetic"},
    "encoding":{"x":{"field":"t","type":"quantitative","scale":{"domain":[266.8,2664.4],"nice":false,"zero":false},"axis":null},
     "y":{"field":"v","type":"quantitative","scale":{"domain":[-92.84,60.25],"nice":false,"zero":false},"axis":null},
     "text":{"field":"s"},
     "color":{"field":"c","type":"nominal","scale":{"domain":["b","k","m","r"],"range":["#1414f0","#000000","#e01ee0","#e60000"]},"legend":null}}},
   {"data":{"values":[{}]},"mark":{"type":"rule","strokeWidth":1.5,"color":"#333"},
    "encoding":{"x":{"datum":-162,"type":"quantitative","scale":{"domain":[266.8,2664.4],"nice":false,"zero":false},"axis":null},
     "y":{"datum":-55.2,"type":"quantitative","scale":{"domain":[-92.84,60.25],"nice":false,"zero":false},"axis":null},"y2":{"datum":-5.2}}},
   {"data":{"values":[{}]},"mark":{"type":"text","font":"Liberation Serif","fontSize":18,"angle":270,"align":"center","baseline":"alphabetic","text":"50 mV","color":"black"},
    "encoding":{"x":{"datum":-187,"type":"quantitative","scale":{"domain":[266.8,2664.4],"nice":false,"zero":false},"axis":null},
     "y":{"datum":-30.3,"type":"quantitative","scale":{"domain":[-92.84,60.25],"nice":false,"zero":false},"axis":null}}},
   {"data":{"values":[{}]},"mark":{"type":"text","font":"Liberation Serif","fontSize":23,"fontWeight":"bold","align":"left","baseline":"alphabetic","text":"A","color":"black"},
    "encoding":{"x":{"datum":-446,"type":"quantitative","scale":{"domain":[266.8,2664.4],"nice":false,"zero":false},"axis":null},
     "y":{"datum":49.9,"type":"quantitative","scale":{"domain":[-92.84,60.25],"nice":false,"zero":false},"axis":null}}},
   {"data":{"values":[{}]},"mark":{"type":"text","font":"Liberation Serif","fontSize":17,"align":"left","baseline":"alphabetic","text":"+300 pA step","color":"black"},
    "encoding":{"x":{"datum":5775,"type":"quantitative","scale":{"domain":[266.8,2664.4],"nice":false,"zero":false},"axis":null},
     "y":{"datum":-28,"type":"quantitative","scale":{"domain":[-92.84,60.25],"nice":false,"zero":false},"axis":null}}}
  ]},
  {"layer":[
   {"data":{"name":"dashA"},"mark":{"type":"rule","strokeWidth":1.5,"color":"#a8a8a8","strokeDash":[8,5]},
    "encoding":{"x":{"field":"t","type":"quantitative","scale":{"domain":[266.8,2664.4],"nice":false,"zero":false},"axis":null},"x2":{"field":"t2"},
     "y":{"field":"d","type":"quantitative","scale":{"domain":[-1.58,41.93],"nice":false,"zero":false},"axis":null}}},
   {"data":{"name":"botTr"},"mark":{"type":"line","strokeWidth":1.2},
    "encoding":{"x":{"field":"t","type":"quantitative","scale":{"domain":[266.8,2664.4],"nice":false,"zero":false},"axis":null},
     "y":{"field":"d","type":"quantitative","scale":{"domain":[-1.58,41.93],"nice":false,"zero":false},"axis":null},
     "color":{"field":"c","type":"nominal","scale":{"domain":["b","k","m","r"],"range":["#1414f0","#000000","#e01ee0","#e60000"]},"legend":null},
     "detail":{"field":"c"}}},
   {"data":{"name":"arrA"},"mark":{"type":"rule","strokeWidth":1,"color":"#444"},
    "encoding":{"x":{"field":"t","type":"quantitative","scale":{"domain":[266.8,2664.4],"nice":false,"zero":false},"axis":null},
     "y":{"field":"d","type":"quantitative","scale":{"domain":[-1.58,41.93],"nice":false,"zero":false},"axis":null},"y2":{"field":"d2"}}},
   {"data":{"name":"arrA"},"mark":{"type":"point","shape":"diamond","filled":true,"size":45,"color":"#444","opacity":1},
    "encoding":{"x":{"field":"t","type":"quantitative","scale":{"domain":[266.8,2664.4],"nice":false,"zero":false},"axis":null},
     "y":{"field":"m","type":"quantitative","scale":{"domain":[-1.58,41.93],"nice":false,"zero":false},"axis":null}}},
   {"data":{"values":[{}]},"mark":{"type":"rule","strokeWidth":1.5,"color":"#333"},
    "encoding":{"x":{"datum":-162,"type":"quantitative","scale":{"domain":[266.8,2664.4],"nice":false,"zero":false},"axis":null},
     "y":{"datum":3.68,"type":"quantitative","scale":{"domain":[-1.58,41.93],"nice":false,"zero":false},"axis":null},"y2":{"datum":-6.32}}},
   {"data":{"values":[{}]},"mark":{"type":"rule","strokeWidth":1.5,"color":"#333"},
    "encoding":{"x":{"datum":-147,"type":"quantitative","scale":{"domain":[266.8,2664.4],"nice":false,"zero":false},"axis":null},"x2":{"datum":853},
     "y":{"datum":-6.32,"type":"quantitative","scale":{"domain":[-1.58,41.93],"nice":false,"zero":false},"axis":null}}},
   {"data":{"values":[{}]},"mark":{"type":"text","font":"Liberation Serif","fontSize":18,"angle":270,"align":"center","baseline":"alphabetic","text":"10 mV","color":"black"},
    "encoding":{"x":{"datum":-187,"type":"quantitative","scale":{"domain":[266.8,2664.4],"nice":false,"zero":false},"axis":null},
     "y":{"datum":-0.2,"type":"quantitative","scale":{"domain":[-1.58,41.93],"nice":false,"zero":false},"axis":null}}},
   {"data":{"values":[{}]},"mark":{"type":"text","font":"Liberation Serif","fontSize":18,"align":"center","baseline":"alphabetic","text":"1s","color":"black"},
    "encoding":{"x":{"datum":370,"type":"quantitative","scale":{"domain":[266.8,2664.4],"nice":false,"zero":false},"axis":null},
     "y":{"datum":-9.3,"type":"quantitative","scale":{"domain":[-1.58,41.93],"nice":false,"zero":false},"axis":null}}},
   {"data":{"values":[{}]},"mark":{"type":"text","font":"Liberation Serif","fontSize":18,"align":"left","baseline":"alphabetic","text":"Excitation","color":"black"},
    "encoding":{"x":{"datum":6422,"type":"quantitative","scale":{"domain":[266.8,2664.4],"nice":false,"zero":false},"axis":null},
     "y":{"datum":0.35,"type":"quantitative","scale":{"domain":[-1.58,41.93],"nice":false,"zero":false},"axis":null}}},
   {"data":{"values":[{}]},"mark":{"type":"text","font":"Liberation Serif","fontSize":17,"align":"left","baseline":"alphabetic","text":"-40 pA step","color":"black"},
    "encoding":{"x":{"datum":5778,"type":"quantitative","scale":{"domain":[266.8,2664.4],"nice":false,"zero":false},"axis":null},
     "y":{"datum":-3.25,"type":"quantitative","scale":{"domain":[-1.58,41.93],"nice":false,"zero":false},"axis":null}}},
   {"data":{"values":[{}]},"mark":{"type":"text","font":"Liberation Serif","fontSize":18,"align":"left","baseline":"alphabetic","text":"SAG","color":"black"},
    "encoding":{"x":{"datum":6426,"type":"quantitative","scale":{"domain":[266.8,2664.4],"nice":false,"zero":false},"axis":null},
     "y":{"datum":-6.84,"type":"quantitative","scale":{"domain":[-1.58,41.93],"nice":false,"zero":false},"axis":null}}}
  ]}
 ]
},
{
 "width":10,"height":10,
 "data":{"values":[{}]},
 "mark":{"type":"text","text":""},
 "encoding":{}
},
{
 "width":215,"height":180,
 "resolve":{"scale":{"y":"independent"}},
 "layer":[
  {"data":{"name":"isf"},
   "layer":[
    {"mark":{"type":"rule","strokeWidth":1},
     "encoding":{"x":{"field":"x","type":"quantitative","scale":{"domain":[0,60],"nice":false,"zero":false},"axis":{"values":[0,10,20,30,40,50,60],"title":"AP #","titleAnchor":"end","titleAlign":"right","titleBaseline":"bottom","titleX":214,"titleY":-3,"titleFontSize":18}},
      "y":{"field":"lo","type":"quantitative","scale":{"domain":[0,180],"nice":false,"zero":false},"axis":{"values":[20,40,60,80,100,120,140,160,180],"labelExpr":"datum.value % 40 == 20 ? datum.label : ''","title":"AP ISF at +300 pA (Hz)","titlePadding":5}},
      "y2":{"field":"hi"},
      "stroke":{"field":"g","type":"nominal","scale":{"domain":[1,2,3,4,5,6,7],"range":["#1029ff","#000000","#ee20ee","#e3000f","#6e2020","#ee8a2c","#7a2390"]},"legend":null}}},
    {"mark":{"type":"tick","orient":"horizontal","size":4,"thickness":1},
     "encoding":{"x":{"field":"x","type":"quantitative","scale":{"domain":[0,60],"nice":false,"zero":false},"axis":{"values":[0,10,20,30,40,50,60],"title":"AP #","titleAnchor":"end","titleAlign":"right","titleBaseline":"bottom","titleX":214,"titleY":-3,"titleFontSize":18}},
      "y":{"field":"lo","type":"quantitative","scale":{"domain":[0,180],"nice":false,"zero":false},"axis":{"values":[20,40,60,80,100,120,140,160,180],"labelExpr":"datum.value % 40 == 20 ? datum.label : ''","title":"AP ISF at +300 pA (Hz)","titlePadding":5}},
      "fill":{"field":"g","type":"nominal","scale":{"domain":[1,2,3,4,5,6,7],"range":["#1029ff","#000000","#ee20ee","#e3000f","#6e2020","#ee8a2c","#7a2390"]},"legend":null}}},
    {"mark":{"type":"tick","orient":"horizontal","size":4,"thickness":1},
     "encoding":{"x":{"field":"x","type":"quantitative","scale":{"domain":[0,60],"nice":false,"zero":false},"axis":{"values":[0,10,20,30,40,50,60],"title":"AP #","titleAnchor":"end","titleAlign":"right","titleBaseline":"bottom","titleX":214,"titleY":-3,"titleFontSize":18}},
      "y":{"field":"hi","type":"quantitative","scale":{"domain":[0,180],"nice":false,"zero":false},"axis":{"values":[20,40,60,80,100,120,140,160,180],"labelExpr":"datum.value % 40 == 20 ? datum.label : ''","title":"AP ISF at +300 pA (Hz)","titlePadding":5}},
      "fill":{"field":"g","type":"nominal","scale":{"domain":[1,2,3,4,5,6,7],"range":["#1029ff","#000000","#ee20ee","#e3000f","#6e2020","#ee8a2c","#7a2390"]},"legend":null}}},
    {"mark":{"type":"point","filled":true,"size":22,"opacity":1,"strokeWidth":0},
     "encoding":{"x":{"field":"x","type":"quantitative","scale":{"domain":[0,60],"nice":false,"zero":false},"axis":{"values":[0,10,20,30,40,50,60],"title":"AP #","titleAnchor":"end","titleAlign":"right","titleBaseline":"bottom","titleX":214,"titleY":-3,"titleFontSize":18}},
      "y":{"field":"y","type":"quantitative","scale":{"domain":[0,180],"nice":false,"zero":false},"axis":{"values":[20,40,60,80,100,120,140,160,180],"labelExpr":"datum.value % 40 == 20 ? datum.label : ''","title":"AP ISF at +300 pA (Hz)","titlePadding":5}},
      "color":{"field":"g","type":"nominal","scale":{"domain":[1,2,3,4,5,6,7],"range":["#1029ff","#000000","#ee20ee","#e3000f","#6e2020","#ee8a2c","#7a2390"]},"legend":null},
      "shape":{"field":"g","type":"nominal","scale":{"domain":[1,2,3,4,5,6,7],"range":["circle","circle","diamond","diamond","square","square","square"]},"legend":null}}},
    {"data":{"values":[{}]},"mark":{"type":"text","font":"Liberation Serif","fontSize":23,"fontWeight":"bold","align":"left","baseline":"alphabetic","text":"B","color":"black"},
     "encoding":{"x":{"datum":-18.4,"type":"quantitative","scale":{"domain":[0,60],"nice":false,"zero":false},"axis":{"values":[0,10,20,30,40,50,60],"title":"AP #","titleAnchor":"end","titleAlign":"right","titleBaseline":"bottom","titleX":214,"titleY":-3,"titleFontSize":18}},
      "y":{"datum":225,"type":"quantitative","scale":{"domain":[0,180],"nice":false,"zero":false},"axis":{"values":[20,40,60,80,100,120,140,160,180],"labelExpr":"datum.value % 40 == 20 ? datum.label : ''","title":"AP ISF at +300 pA (Hz)","titlePadding":5}}}}
   ]},
  {"data":{"name":"legB"},
   "layer":[
    {"mark":{"type":"point","filled":true,"size":55,"opacity":1,"strokeWidth":0},
     "encoding":{"x":{"datum":22.05,"type":"quantitative","scale":{"domain":[0,60],"nice":false,"zero":false},"axis":{"values":[0,10,20,30,40,50,60],"title":"AP #","titleAnchor":"end","titleAlign":"right","titleBaseline":"bottom","titleX":214,"titleY":-3,"titleFontSize":18}},
      "y":{"field":"g","type":"quantitative","scale":{"domain":[4.6,17.3],"reverse":true,"nice":false,"zero":false},"axis":null},
      "color":{"field":"g","type":"nominal","scale":{"domain":[1,2,3,4,5,6,7],"range":["#1029ff","#000000","#ee20ee","#e3000f","#6e2020","#ee8a2c","#7a2390"]},"legend":null},
      "shape":{"field":"g","type":"nominal","scale":{"domain":[1,2,3,4,5,6,7],"range":["circle","circle","diamond","diamond","square","square","square"]},"legend":null}}},
    {"mark":{"type":"text","font":"Liberation Serif","fontSize":14,"align":"left","baseline":"middle"},
     "encoding":{"x":{"datum":24.8,"type":"quantitative","scale":{"domain":[0,60],"nice":false,"zero":false},"axis":{"values":[0,10,20,30,40,50,60],"title":"AP #","titleAnchor":"end","titleAlign":"right","titleBaseline":"bottom","titleX":214,"titleY":-3,"titleFontSize":18}},
      "y":{"field":"g","type":"quantitative","scale":{"domain":[4.6,17.3],"reverse":true,"nice":false,"zero":false},"axis":null},
      "text":{"field":"lab"},
      "color":{"field":"g","type":"nominal","scale":{"domain":[1,2,3,4,5,6,7],"range":["#1029ff","#000000","#ee20ee","#e3000f","#6e2020","#ee8a2c","#7a2390"]},"legend":null}}}
   ]}
 ]
},
{
 "width":199,"height":169,
 "data":{"name":"out"},
 "layer":[
  {"mark":{"type":"rule","strokeWidth":1.2},
   "encoding":{"x":{"field":"x","type":"quantitative","scale":{"domain":[0,300],"nice":false,"zero":false},"axis":{"values":[0,50,100,150,200,250,300],"labelExpr":"datum.value % 100 == 0 ? datum.label : ''","offset":13,"title":"Input (pA)","titleAnchor":"end","titleAlign":"right","titleBaseline":"bottom","titleX":199,"titleY":-5}},
    "y":{"field":"lo","type":"quantitative","scale":{"domain":[0,35],"nice":false,"zero":false},"axis":{"values":[5,10,15,20,25,30,35],"labelExpr":"datum.value % 10 == 5 ? datum.label : ''","title":"Output (avg AP N-Hz)","titlePadding":3}},
    "y2":{"field":"hi"},
    "stroke":{"field":"g","type":"nominal","scale":{"domain":[1,2,3,4,5,6,7],"range":["#1029ff","#000000","#ee20ee","#e3000f","#6e2020","#ee8a2c","#7a2390"]},"legend":null}}},
  {"mark":{"type":"tick","orient":"horizontal","size":5,"thickness":1.2},
   "encoding":{"x":{"field":"x","type":"quantitative","scale":{"domain":[0,300],"nice":false,"zero":false},"axis":{"values":[0,50,100,150,200,250,300],"labelExpr":"datum.value % 100 == 0 ? datum.label : ''","offset":13,"title":"Input (pA)","titleAnchor":"end","titleAlign":"right","titleBaseline":"bottom","titleX":199,"titleY":-5}},
    "y":{"field":"lo","type":"quantitative","scale":{"domain":[0,35],"nice":false,"zero":false},"axis":{"values":[5,10,15,20,25,30,35],"labelExpr":"datum.value % 10 == 5 ? datum.label : ''","title":"Output (avg AP N-Hz)","titlePadding":3}},
    "fill":{"field":"g","type":"nominal","scale":{"domain":[1,2,3,4,5,6,7],"range":["#1029ff","#000000","#ee20ee","#e3000f","#6e2020","#ee8a2c","#7a2390"]},"legend":null}}},
  {"mark":{"type":"tick","orient":"horizontal","size":5,"thickness":1.2},
   "encoding":{"x":{"field":"x","type":"quantitative","scale":{"domain":[0,300],"nice":false,"zero":false},"axis":{"values":[0,50,100,150,200,250,300],"labelExpr":"datum.value % 100 == 0 ? datum.label : ''","offset":13,"title":"Input (pA)","titleAnchor":"end","titleAlign":"right","titleBaseline":"bottom","titleX":199,"titleY":-5}},
    "y":{"field":"hi","type":"quantitative","scale":{"domain":[0,35],"nice":false,"zero":false},"axis":{"values":[5,10,15,20,25,30,35],"labelExpr":"datum.value % 10 == 5 ? datum.label : ''","title":"Output (avg AP N-Hz)","titlePadding":3}},
    "fill":{"field":"g","type":"nominal","scale":{"domain":[1,2,3,4,5,6,7],"range":["#1029ff","#000000","#ee20ee","#e3000f","#6e2020","#ee8a2c","#7a2390"]},"legend":null}}},
  {"mark":{"type":"point","filled":true,"size":30,"opacity":1,"strokeWidth":0},
   "encoding":{"x":{"field":"x","type":"quantitative","scale":{"domain":[0,300],"nice":false,"zero":false},"axis":{"values":[0,50,100,150,200,250,300],"labelExpr":"datum.value % 100 == 0 ? datum.label : ''","offset":13,"title":"Input (pA)","titleAnchor":"end","titleAlign":"right","titleBaseline":"bottom","titleX":199,"titleY":-5}},
    "y":{"field":"y","type":"quantitative","scale":{"domain":[0,35],"nice":false,"zero":false},"axis":{"values":[5,10,15,20,25,30,35],"labelExpr":"datum.value % 10 == 5 ? datum.label : ''","title":"Output (avg AP N-Hz)","titlePadding":3}},
    "color":{"field":"g","type":"nominal","scale":{"domain":[1,2,3,4,5,6,7],"range":["#1029ff","#000000","#ee20ee","#e3000f","#6e2020","#ee8a2c","#7a2390"]},"legend":null},
    "shape":{"field":"g","type":"nominal","scale":{"domain":[1,2,3,4,5,6,7],"range":["circle","circle","diamond","diamond","square","square","square"]},"legend":null}}},
  {"data":{"values":[{}]},"mark":{"type":"text","font":"Liberation Serif","fontSize":23,"fontWeight":"bold","align":"left","baseline":"alphabetic","text":"C","color":"black"},
   "encoding":{"x":{"datum":-79.9,"type":"quantitative","scale":{"domain":[0,300],"nice":false,"zero":false},"axis":{"values":[0,50,100,150,200,250,300],"labelExpr":"datum.value % 100 == 0 ? datum.label : ''","offset":13,"title":"Input (pA)","titleAnchor":"end","titleAlign":"right","titleBaseline":"bottom","titleX":199,"titleY":-5}},
    "y":{"datum":44.3,"type":"quantitative","scale":{"domain":[0,35],"nice":false,"zero":false},"axis":{"values":[5,10,15,20,25,30,35],"labelExpr":"datum.value % 10 == 5 ? datum.label : ''","title":"Output (avg AP N-Hz)","titlePadding":3}}}}
 ]
},
{
 "width":222,"height":182,
 "layer":[
  {"data":{"name":"brD"},"mark":{"type":"rule","strokeWidth":1.5,"color":"#111"},
   "encoding":{"x":{"field":"x","type":"quantitative","scale":{"domain":[0.472,7.366],"nice":false,"zero":false},"axis":null},"x2":{"field":"x2"},
    "y":{"field":"y","type":"quantitative","scale":{"domain":[-20,100],"nice":false,"zero":false},"axis":{"values":[-20,0,20,40,60,80,100],"title":"SAG=(1-DVₛₛ/DVₘᵢₙ)*100 (%)","titlePadding":2,"titleFontSize":17}},"y2":{"field":"y2"}}},
  {"data":{"name":"sigD"},"mark":{"type":"text","font":"Liberation Serif","fontSize":16,"align":"center","baseline":"middle","dy":4,"color":"black"},
   "encoding":{"x":{"field":"x","type":"quantitative","scale":{"domain":[0.472,7.366],"nice":false,"zero":false},"axis":null},
    "y":{"field":"y","type":"quantitative","scale":{"domain":[-20,100],"nice":false,"zero":false},"axis":{"values":[-20,0,20,40,60,80,100],"title":"SAG=(1-DVₛₛ/DVₘᵢₙ)*100 (%)","titlePadding":2,"titleFontSize":17}},
    "text":{"field":"s"}}},
  {"data":{"name":"sag"},"mark":{"type":"point","filled":true,"size":38,"opacity":1,"strokeWidth":0},
   "encoding":{"x":{"field":"x","type":"quantitative","scale":{"domain":[0.472,7.366],"nice":false,"zero":false},"axis":null},
    "y":{"field":"y","type":"quantitative","scale":{"domain":[-20,100],"nice":false,"zero":false},"axis":{"values":[-20,0,20,40,60,80,100],"title":"SAG=(1-DVₛₛ/DVₘᵢₙ)*100 (%)","titlePadding":2,"titleFontSize":17}},
    "color":{"field":"g","type":"nominal","scale":{"domain":[1,2,3,4,5,6,7],"range":["#0a2bff","#000000","#f01ef0","#e60000","#7a0a0a","#f08a30","#8a1aff"]},"legend":null},
    "shape":{"field":"g","type":"nominal","scale":{"domain":[1,2,3,4,5,6,7],"range":["circle","circle","diamond","diamond","square","square","square"]},"legend":null}}},
  {"data":{"name":"sagS"},"mark":{"type":"rule","strokeWidth":1.5},
   "encoding":{"x":{"field":"g","type":"quantitative","scale":{"domain":[0.472,7.366],"nice":false,"zero":false},"axis":null},
    "y":{"field":"lo","type":"quantitative","scale":{"domain":[-20,100],"nice":false,"zero":false},"axis":{"values":[-20,0,20,40,60,80,100],"title":"SAG=(1-DVₛₛ/DVₘᵢₙ)*100 (%)","titlePadding":2,"titleFontSize":17}},"y2":{"field":"hi"},
    "color":{"field":"g","type":"nominal","scale":{"domain":[1,2,3,4,5,6,7],"range":["#0a2bff","#000000","#f01ef0","#e60000","#7a0a0a","#f08a30","#8a1aff"]},"legend":null}}},
  {"data":{"name":"sagS"},"mark":{"type":"tick","orient":"horizontal","size":8,"thickness":1.5},
   "encoding":{"x":{"field":"g","type":"quantitative","scale":{"domain":[0.472,7.366],"nice":false,"zero":false},"axis":null},
    "y":{"field":"lo","type":"quantitative","scale":{"domain":[-20,100],"nice":false,"zero":false},"axis":{"values":[-20,0,20,40,60,80,100],"title":"SAG=(1-DVₛₛ/DVₘᵢₙ)*100 (%)","titlePadding":2,"titleFontSize":17}},
    "color":{"field":"g","type":"nominal","scale":{"domain":[1,2,3,4,5,6,7],"range":["#0a2bff","#000000","#f01ef0","#e60000","#7a0a0a","#f08a30","#8a1aff"]},"legend":null}}},
  {"data":{"name":"sagS"},"mark":{"type":"tick","orient":"horizontal","size":8,"thickness":1.5},
   "encoding":{"x":{"field":"g","type":"quantitative","scale":{"domain":[0.472,7.366],"nice":false,"zero":false},"axis":null},
    "y":{"field":"hi","type":"quantitative","scale":{"domain":[-20,100],"nice":false,"zero":false},"axis":{"values":[-20,0,20,40,60,80,100],"title":"SAG=(1-DVₛₛ/DVₘᵢₙ)*100 (%)","titlePadding":2,"titleFontSize":17}},
    "color":{"field":"g","type":"nominal","scale":{"domain":[1,2,3,4,5,6,7],"range":["#0a2bff","#000000","#f01ef0","#e60000","#7a0a0a","#f08a30","#8a1aff"]},"legend":null}}},
  {"data":{"name":"sagS"},"mark":{"type":"tick","orient":"horizontal","size":26,"thickness":1.8},
   "encoding":{"x":{"field":"g","type":"quantitative","scale":{"domain":[0.472,7.366],"nice":false,"zero":false},"axis":null},
    "y":{"field":"m","type":"quantitative","scale":{"domain":[-20,100],"nice":false,"zero":false},"axis":{"values":[-20,0,20,40,60,80,100],"title":"SAG=(1-DVₛₛ/DVₘᵢₙ)*100 (%)","titlePadding":2,"titleFontSize":17}},
    "color":{"field":"g","type":"nominal","scale":{"domain":[1,2,3,4,5,6,7],"range":["#0a2bff","#000000","#f01ef0","#e60000","#7a0a0a","#f08a30","#8a1aff"]},"legend":null}}},
  {"data":{"values":[{}]},"mark":{"type":"text","font":"Liberation Serif","fontSize":23,"fontWeight":"bold","align":"left","baseline":"alphabetic","text":"D","color":"black"},
   "encoding":{"x":{"datum":-1.578,"type":"quantitative","scale":{"domain":[0.472,7.366],"nice":false,"zero":false},"axis":null},
    "y":{"datum":141,"type":"quantitative","scale":{"domain":[-20,100],"nice":false,"zero":false},"axis":{"values":[-20,0,20,40,60,80,100],"title":"SAG=(1-DVₛₛ/DVₘᵢₙ)*100 (%)","titlePadding":2,"titleFontSize":17}}}}
 ]
},
{
 "width":222,"height":183,
 "layer":[
  {"data":{"name":"brE"},"mark":{"type":"rule","strokeWidth":1.5,"color":"#111"},
   "encoding":{"x":{"field":"x","type":"quantitative","scale":{"domain":[0.503,7.397],"nice":false,"zero":false},"axis":null},"x2":{"field":"x2"},
    "y":{"field":"y","type":"quantitative","scale":{"domain":[-5,10],"nice":false,"zero":false},"axis":{"values":[-5,-2.5,0,2.5,5,7.5,10],"labelExpr":"datum.value % 5 == 0 ? datum.label : ''","title":"Rebound Excitation (mV)","titlePadding":4}},"y2":{"field":"y2"}}},
  {"data":{"name":"sigE"},"mark":{"type":"text","font":"Liberation Serif","fontSize":16,"align":"center","baseline":"middle","dy":4,"color":"black"},
   "encoding":{"x":{"field":"x","type":"quantitative","scale":{"domain":[0.503,7.397],"nice":false,"zero":false},"axis":null},
    "y":{"field":"y","type":"quantitative","scale":{"domain":[-5,10],"nice":false,"zero":false},"axis":{"values":[-5,-2.5,0,2.5,5,7.5,10],"labelExpr":"datum.value % 5 == 0 ? datum.label : ''","title":"Rebound Excitation (mV)","titlePadding":4}},
    "text":{"field":"s"}}},
  {"data":{"name":"reb"},"mark":{"type":"point","filled":true,"size":38,"opacity":1,"strokeWidth":0},
   "encoding":{"x":{"field":"x","type":"quantitative","scale":{"domain":[0.503,7.397],"nice":false,"zero":false},"axis":null},
    "y":{"field":"y","type":"quantitative","scale":{"domain":[-5,10],"nice":false,"zero":false},"axis":{"values":[-5,-2.5,0,2.5,5,7.5,10],"labelExpr":"datum.value % 5 == 0 ? datum.label : ''","title":"Rebound Excitation (mV)","titlePadding":4}},
    "color":{"field":"g","type":"nominal","scale":{"domain":[1,2,3,4,5,6,7],"range":["#0a2bff","#000000","#f01ef0","#e60000","#7a0a0a","#f08a30","#8a1aff"]},"legend":null},
    "shape":{"field":"g","type":"nominal","scale":{"domain":[1,2,3,4,5,6,7],"range":["circle","circle","diamond","diamond","square","square","square"]},"legend":null}}},
  {"data":{"name":"rebS"},"mark":{"type":"rule","strokeWidth":1.5},
   "encoding":{"x":{"field":"g","type":"quantitative","scale":{"domain":[0.503,7.397],"nice":false,"zero":false},"axis":null},
    "y":{"field":"lo","type":"quantitative","scale":{"domain":[-5,10],"nice":false,"zero":false},"axis":{"values":[-5,-2.5,0,2.5,5,7.5,10],"labelExpr":"datum.value % 5 == 0 ? datum.label : ''","title":"Rebound Excitation (mV)","titlePadding":4}},"y2":{"field":"hi"},
    "color":{"field":"g","type":"nominal","scale":{"domain":[1,2,3,4,5,6,7],"range":["#0a2bff","#000000","#f01ef0","#e60000","#7a0a0a","#f08a30","#8a1aff"]},"legend":null}}},
  {"data":{"name":"rebS"},"mark":{"type":"tick","orient":"horizontal","size":8,"thickness":1.5},
   "encoding":{"x":{"field":"g","type":"quantitative","scale":{"domain":[0.503,7.397],"nice":false,"zero":false},"axis":null},
    "y":{"field":"lo","type":"quantitative","scale":{"domain":[-5,10],"nice":false,"zero":false},"axis":{"values":[-5,-2.5,0,2.5,5,7.5,10],"labelExpr":"datum.value % 5 == 0 ? datum.label : ''","title":"Rebound Excitation (mV)","titlePadding":4}},
    "color":{"field":"g","type":"nominal","scale":{"domain":[1,2,3,4,5,6,7],"range":["#0a2bff","#000000","#f01ef0","#e60000","#7a0a0a","#f08a30","#8a1aff"]},"legend":null}}},
  {"data":{"name":"rebS"},"mark":{"type":"tick","orient":"horizontal","size":8,"thickness":1.5},
   "encoding":{"x":{"field":"g","type":"quantitative","scale":{"domain":[0.503,7.397],"nice":false,"zero":false},"axis":null},
    "y":{"field":"hi","type":"quantitative","scale":{"domain":[-5,10],"nice":false,"zero":false},"axis":{"values":[-5,-2.5,0,2.5,5,7.5,10],"labelExpr":"datum.value % 5 == 0 ? datum.label : ''","title":"Rebound Excitation (mV)","titlePadding":4}},
    "color":{"field":"g","type":"nominal","scale":{"domain":[1,2,3,4,5,6,7],"range":["#0a2bff","#000000","#f01ef0","#e60000","#7a0a0a","#f08a30","#8a1aff"]},"legend":null}}},
  {"data":{"name":"rebS"},"mark":{"type":"tick","orient":"horizontal","size":26,"thickness":1.8},
   "encoding":{"x":{"field":"g","type":"quantitative","scale":{"domain":[0.503,7.397],"nice":false,"zero":false},"axis":null},
    "y":{"field":"m","type":"quantitative","scale":{"domain":[-5,10],"nice":false,"zero":false},"axis":{"values":[-5,-2.5,0,2.5,5,7.5,10],"labelExpr":"datum.value % 5 == 0 ? datum.label : ''","title":"Rebound Excitation (mV)","titlePadding":4}},
    "color":{"field":"g","type":"nominal","scale":{"domain":[1,2,3,4,5,6,7],"range":["#0a2bff","#000000","#f01ef0","#e60000","#7a0a0a","#f08a30","#8a1aff"]},"legend":null}}},
  {"data":{"values":[{}]},"mark":{"type":"text","font":"Liberation Serif","fontSize":23,"fontWeight":"bold","align":"left","baseline":"alphabetic","text":"E","color":"black"},
   "encoding":{"x":{"datum":-1.143,"type":"quantitative","scale":{"domain":[0.503,7.397],"nice":false,"zero":false},"axis":null},
    "y":{"datum":15.08,"type":"quantitative","scale":{"domain":[-5,10],"nice":false,"zero":false},"axis":{"values":[-5,-2.5,0,2.5,5,7.5,10],"labelExpr":"datum.value % 5 == 0 ? datum.label : ''","title":"Rebound Excitation (mV)","titlePadding":4}}}}
 ]
}
]
}
